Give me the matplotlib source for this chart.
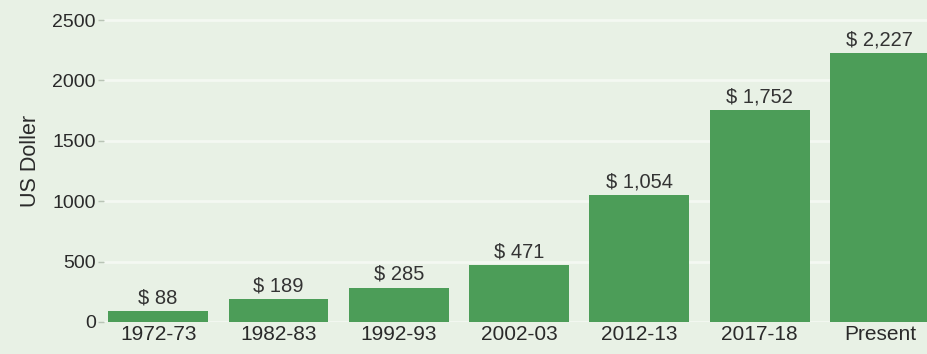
import matplotlib.pyplot as plt

plt.rcParams['font.family'] = ['Liberation Sans', 'DejaVu Sans']

periods = ['1972-73', '1982-83', '1992-93', '2002-03', '2012-13', '2017-18', 'Present']
income = [88, 189, 285, 471, 1054, 1752, 2227]
labels = ['$ 88', '$ 189', '$ 285', '$ 471', '$ 1,054', '$ 1,752', '$ 2,227']
yticks = [0, 500, 1000, 1500, 2000, 2500]

bg = '#e8f1e5'
fig = plt.figure(figsize=(9.28, 3.54), dpi=100, facecolor=bg)
ax = fig.add_axes([104 / 928, 32 / 354, 1 - 104 / 928, 1 - 32 / 354], facecolor=bg)

x = range(len(periods))
bars = ax.bar(x, income, width=0.83, color='#4c9d58', zorder=2)
for b, t in zip(bars, labels):
    ax.text(b.get_x() + b.get_width() / 2, b.get_height() + 30, t,
            ha='center', va='bottom', fontsize=14.5, color='#333333')

ax.set_xlim(-0.45, 6.40)
ax.set_ylim(0, 2666)
ax.set_xticks(list(x))
ax.set_xticklabels(periods, fontsize=15, color='#2a2a2a')
ax.set_yticks(yticks)
ax.set_yticklabels([str(v) for v in yticks], fontsize=14, color='#2a2a2a')
ax.tick_params(axis='x', length=0, pad=2)
ax.tick_params(axis='y', length=4, width=1, color='#b9c4b6', pad=2)
ax.grid(axis='y', color='#f4f8f2', linewidth=2, zorder=0)
for s in ax.spines.values():
    s.set_visible(False)
ax.set_ylabel('US Doller', fontsize=15.5, color='#2a2a2a', labelpad=8)

fig.savefig('out.png', dpi=100, facecolor=bg)
